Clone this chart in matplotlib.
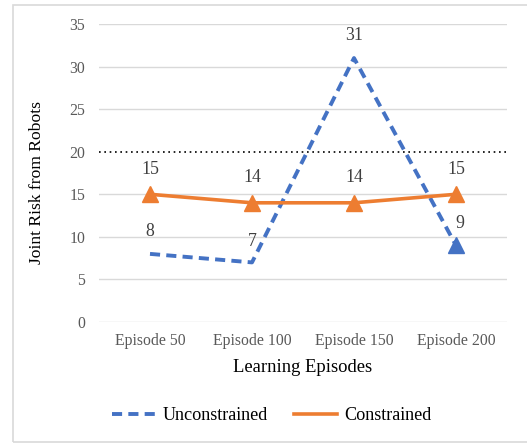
import matplotlib
matplotlib.use("Agg")
import matplotlib.pyplot as plt
from matplotlib.patches import Rectangle

categories = ["Episode 50", "Episode 100", "Episode 150", "Episode 200"]
unconstrained = [8, 7, 31, 9]
constrained = [15, 14, 14, 15]
threshold = 20
yticks = [0, 5, 10, 15, 20, 25, 30, 35]

plt.rcParams['font.family'] = ['Liberation Serif', 'DejaVu Serif']

W, H = 527, 443
fig = plt.figure(figsize=(W/100, H/100), dpi=100)
frame = Rectangle((13/W, 1/H), 1 - 13/W + 0.01, (442-4)/H - 1/H,
                  transform=fig.transFigure, facecolor='none',
                  edgecolor='#d9d9d9', lw=1.2, zorder=-10)
fig.patches.append(frame)
ax = fig.add_axes([99/W, (H-322)/H, (507-99)/W, (322-24)/H])
ax.set_facecolor('none')
ax.set_zorder(5)
x = list(range(len(categories)))

blue = '#4472C4'
orange = '#ED7D31'

ax.set_ylim(0, 35)
ax.set_xlim(-0.5, 3.5)
ax.set_yticks(yticks)
for t in yticks:
    if t != threshold:
        ax.axhline(t, color='#d9d9d9', lw=1.0, zorder=0)
ax.axhline(threshold, color='black', lw=1.2, ls=(0, (1, 2.2)), zorder=1)

l1, = ax.plot(x, unconstrained, color=blue, lw=2.8, ls=(0, (2.6, 1.6)), zorder=3,
              label='Unconstrained')
ax.plot([x[-1]], [unconstrained[-1]], marker='^', color=blue, ms=11, ls='none', zorder=4)
l2, = ax.plot(x, constrained, color=orange, lw=2.6, marker='^', ms=11, zorder=3,
              label='Constrained')

for xi, v in zip(x, constrained):
    ax.annotate(str(v), (xi, v), xytext=(0, 18), textcoords='offset points',
                ha='center', va='center', fontsize=12.8, color='#404040')
offs = [(0, 16), (0, 15), (0, 16), (3, 16)]
for xi, v, o in zip(x, unconstrained, offs):
    ax.annotate(str(v), (xi, v), xytext=o, textcoords='offset points',
                ha='center', va='center', fontsize=12.8, color='#404040')

for s in ax.spines.values():
    s.set_visible(False)
ax.tick_params(length=0, labelsize=11.3, colors='#595959')
ax.tick_params(axis='x', pad=8)
ax.tick_params(axis='y', pad=10)
ax.set_xticks(x)
ax.set_xticklabels(categories)
ax.set_xlabel('Learning Episodes', fontsize=13.4, color='black', labelpad=7)
ax.set_ylabel('Joint Risk from Robots', fontsize=12.6, color='black', va='center')
ax.yaxis.set_label_coords((37 - 99) / 408, (322 - 183) / 298)

leg = fig.legend(handles=[l1, l2],
                 labels=['Unconstrained', 'Constrained'],
                 loc='center', bbox_to_anchor=(272/W, (H-416)/H),
                 ncol=2, frameon=False, fontsize=13.1, handlelength=2.36,
                 columnspacing=1.45, handletextpad=0.4)
for h in leg.legend_handles:
    h.set_marker('')

fig.savefig('out.png', dpi=100)
